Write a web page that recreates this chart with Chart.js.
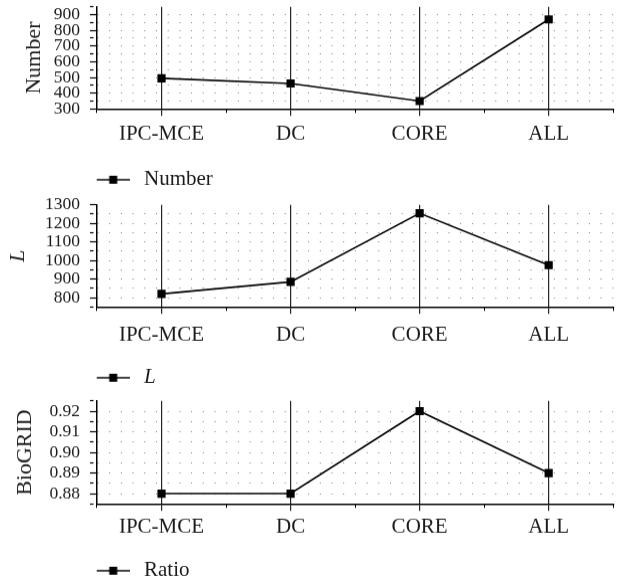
<!DOCTYPE html>
<html>
<head>
<meta charset="utf-8">
<script src="https://cdn.jsdelivr.net/npm/chart.js@4.4.1/dist/chart.umd.min.js"></script>
<style>
    html, body { margin: 0; padding: 0; background: #fff; overflow: hidden; }
    body { width: 619px; height: 581px; position: relative; }
    .panel { position: absolute; left: 0; width: 619px; }
</style>
</head>
<body>
<div class="panel" style="top:-11.75px;height:211.25px"><canvas id="chartNumber"></canvas></div>
<div class="panel" style="top:186.25px;height:211.25px"><canvas id="chartL"></canvas></div>
<div class="panel" style="top:382.25px;height:208.25px"><canvas id="chartRatio"></canvas></div>
<script>
// Categories shared by all three panels
const categories = ['IPC-MCE', 'DC', 'CORE', 'ALL'];

// Series values
const numberValues = [495, 462, 350, 870];
const lengthValues = [820, 885, 1255, 975];
const ratioValues = [0.88, 0.88, 0.92, 0.89];

// Axis ranges: [min, max, minor step, labelled step]
const numberAxis = [300, 950, 50, 100];
const lengthAxis = [750, 1300, 50, 100];
const ratioAxis = [0.875, 0.925, 0.005, 0.01];

const FONT = "'Liberation Serif', 'Times New Roman', serif";
const INK = '#1a1a1a';

// Legend marker: short line with a square, padded on the left so it lines up with the axis
function makeLegendMarker() {
    const c = document.createElement('canvas');
    c.width = 116;
    c.height = 10;
    const g = c.getContext('2d');
    g.strokeStyle = '#000';
    g.lineWidth = 1.5;
    g.beginPath();
    g.moveTo(83, 5);
    g.lineTo(116, 5);
    g.stroke();
    g.fillStyle = '#000';
    g.fillRect(95.5, 1, 8, 8);
    return c;
}
const legendMarker = makeLegendMarker();

function isMajor(value, axis) {
    const r = value / axis[3];
    return Math.abs(r - Math.round(r)) < 1e-6;
}

function initPanel(canvasId, values, axis, opts) {
    const canvas = document.getElementById(canvasId);
    if (!canvas) {
        console.error('Canvas element not found:', canvasId);
        return;
    }
    const ctx = canvas.getContext('2d');

    return new Chart(ctx, {
        type: 'line',
        data: {
            labels: categories,
            datasets: [{
                label: opts.legend,
                data: values,
                xAxisID: 'x',
                yAxisID: 'y',
                borderColor: '#000',
                borderWidth: 1.6,
                tension: 0,
                fill: false,
                pointStyle: 'rect',
                pointRadius: 5.8,
                pointBackgroundColor: '#000',
                pointBorderWidth: 0
            }]
        },
        options: {
            responsive: true,
            maintainAspectRatio: false,
            animation: false,
            layout: { padding: 0 },
            plugins: {
                tooltip: { enabled: false },
                legend: {
                    position: 'bottom',
                    align: 'start',
                    labels: {
                        usePointStyle: true,
                        pointStyle: legendMarker,
                        pointStyleWidth: 123.5,
                        padding: 10,
                        color: INK,
                        font: { family: FONT, size: 21, style: opts.italic ? 'italic' : 'normal' }
                    }
                }
            },
            scales: {
                x: {
                    type: 'category',
                    offset: true,
                    grid: {
                        offset: false,
                        color: '#262626',
                        lineWidth: 1.2,
                        tickLength: 7,
                        tickColor: '#262626',
                        tickWidth: 1.2
                    },
                    border: { color: '#000', width: 1.5 },
                    ticks: {
                        color: INK,
                        padding: opts.xPad,
                        autoSkip: false,
                        maxRotation: 0,
                        font: { family: FONT, size: 21 }
                    },
                    afterFit: function(scale) {
                        scale.height = opts.xHeight;
                    }
                },
                x2: {
                    type: 'category',
                    position: 'bottom',
                    offset: true,
                    weight: -1,
                    grid: {
                        offset: true,
                        drawOnChartArea: false,
                        tickLength: 4,
                        tickColor: '#000',
                        tickWidth: 1
                    },
                    border: { display: false },
                    ticks: { display: false },
                    afterFit: function(scale) {
                        scale.height = 0;
                    }
                },
                y: {
                    min: axis[0],
                    max: axis[1],
                    grid: {
                        color: function(c) {
                            const v = c.tick ? c.tick.value : null;
                            return (v === axis[0] || v === axis[1]) ? 'rgba(0,0,0,0)' : '#7a7a7a';
                        },
                        lineWidth: 1,
                        tickLength: 7,
                        tickColor: '#000',
                        tickWidth: 1.2,
                        tickBorderDash: function(c) {
                            return c.tick && isMajor(c.tick.value, axis) ? [] : [3.5, 40];
                        }
                    },
                    border: {
                        color: '#000',
                        width: 1.5,
                        dash: [1, 10.7]
                    },
                    ticks: {
                        stepSize: axis[2],
                        autoSkip: false,
                        padding: 10,
                        color: INK,
                        font: { family: FONT, size: 17.5, lineHeight: 1 },
                        callback: function(value) {
                            if (!isMajor(value, axis)) return '';
                            return opts.decimals ? value.toFixed(opts.decimals) : String(Math.round(value));
                        }
                    },
                    title: {
                        display: true,
                        text: opts.title,
                        color: INK,
                        padding: { top: opts.titlePad, bottom: 0 },
                        font: { family: FONT, size: 22, style: opts.italic ? 'italic' : 'normal' }
                    },
                    afterFit: function(scale) {
                        scale.width = 97;
                    }
                }
            }
        }
    });
}

initPanel('chartNumber', numberValues, numberAxis, { legend: 'Number', title: 'Number', titlePad: 21, xPad: 6, xHeight: 50 });
initPanel('chartL', lengthValues, lengthAxis, { legend: 'L', title: 'L', italic: true, titlePad: 5, xPad: 9, xHeight: 50 });
initPanel('chartRatio', ratioValues, ratioAxis, { legend: 'Ratio', title: 'BioGRID', titlePad: 12, xPad: 4, decimals: 2, xHeight: 46 });
</script>
</body>
</html>
